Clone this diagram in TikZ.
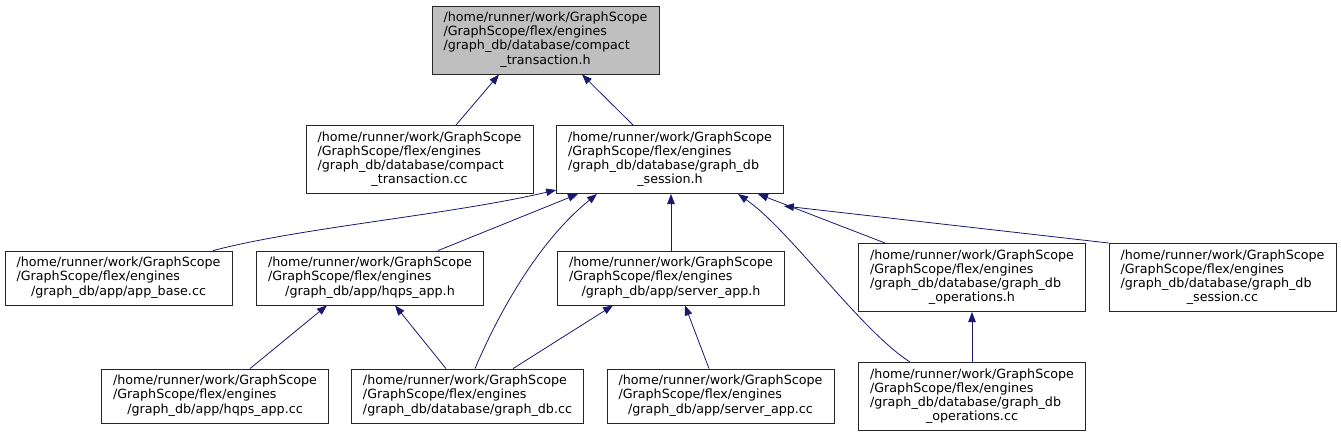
\documentclass[tikz,border=0pt]{standalone}
\usepackage{fontspec}
\setmainfont{DejaVu Sans}
\usepackage{xcolor}
\usepackage{tikz}
\usetikzlibrary{arrows.meta,positioning}
\definecolor{edgeblue}{HTML}{191970}
\definecolor{rootgray}{HTML}{BFBFBF}
\newcommand{\fpath}[2]{\begin{tabular}{@{}l@{}}#1\\\multicolumn{1}{@{}c@{}}{#2}\end{tabular}}

\begin{document}
\begin{tikzpicture}[
      x=1pt, y=-1pt,
      box/.style={draw=black!85, line width=0.8pt, inner xsep=11.5pt, inner ysep=5.7pt, font=\fontsize{12.7}{14.2}\selectfont},
      root/.style={box, fill=rootgray},
      arr/.style={-{Triangle[length=10pt,width=7.5pt]}, draw=edgeblue, line width=0.8pt}
    ]
      \useasboundingbox (0,0) rectangle (1341,437);

      \node[root] (ctxh) at (545.5,40) {\fpath{/home/runner/work/GraphScope\\/GraphScope/flex/engines\\/graph\_db/database/compact}{\_transaction.h}};
      \node[box] (ctxcc) at (419.5,159.5) {\fpath{/home/runner/work/GraphScope\\/GraphScope/flex/engines\\/graph\_db/database/compact}{\_transaction.cc}};
      \node[box] (sessh) at (670,159.5) {\fpath{/home/runner/work/GraphScope\\/GraphScope/flex/engines\\/graph\_db/database/graph\_db}{\_session.h}};
      \node[box] (appbase) at (118.5,278) {\fpath{/home/runner/work/GraphScope\\/GraphScope/flex/engines}{/graph\_db/app/app\_base.cc}};
      \node[box] (hqpsh) at (370,278) {\fpath{/home/runner/work/GraphScope\\/GraphScope/flex/engines}{/graph\_db/app/hqps\_app.h}};
      \node[box] (serverh) at (671,278) {\fpath{/home/runner/work/GraphScope\\/GraphScope/flex/engines}{/graph\_db/app/server\_app.h}};
      \node[box] (opsh) at (972,277.5) {\fpath{/home/runner/work/GraphScope\\/GraphScope/flex/engines\\/graph\_db/database/graph\_db}{\_operations.h}};
      \node[box] (sesscc) at (1222.5,277.5) {\fpath{/home/runner/work/GraphScope\\/GraphScope/flex/engines\\/graph\_db/database/graph\_db}{\_session.cc}};
      \node[box] (hqpscc) at (215,396) {\fpath{/home/runner/work/GraphScope\\/GraphScope/flex/engines}{/graph\_db/app/hqps\_app.cc}};
      \node[box] (dbcc) at (467.5,396) {\fpath{/home/runner/work/GraphScope\\/GraphScope/flex/engines}{/graph\_db/database/graph\_db.cc}};
      \node[box] (servercc) at (720.5,396) {\fpath{/home/runner/work/GraphScope\\/GraphScope/flex/engines}{/graph\_db/app/server\_app.cc}};
      \node[box] (opscc) at (972,396.5) {\fpath{/home/runner/work/GraphScope\\/GraphScope/flex/engines\\/graph\_db/database/graph\_db}{\_operations.cc}};

      \draw[arr] ([xshift=36.5]ctxcc.north) -- ([xshift=-46.5]ctxh.south);
      \draw[arr] ([xshift=-37]sessh.north) -- ([xshift=36.5]ctxh.south);
      \draw[arr] ([xshift=94.5]appbase.north) .. controls +(87,-23) and +(-107,25) .. ([yshift=4]sessh.south west);
      \draw[arr] ([xshift=68]hqpsh.north) -- ([xshift=-92]sessh.south);
      \draw[arr] ([xshift=7.5]dbcc.north) .. controls +(25,-59) and +(-57,46) .. ([xshift=-73]sessh.south);
      \draw[arr] (serverh.north) -- (serverh.north |- sessh.south);
      \draw[arr] ([xshift=-62]opscc.north) .. controls +(-50,-32) and +(52,36) .. ([xshift=68]sessh.south);
      \draw[arr] ([xshift=-87]opsh.north) -- ([xshift=88]sessh.south);
      \draw[arr] (sesscc.north west) -- ([yshift=-12]sessh.south east);
      \draw[arr] ([xshift=35]hqpscc.north) -- ([xshift=-43]hqpsh.south);
      \draw[arr] ([xshift=-21.5]dbcc.north) -- ([xshift=25]hqpsh.south);
      \draw[arr] ([xshift=45.5]dbcc.north) -- ([xshift=-58]serverh.south);
      \draw[arr] ([xshift=-11.5]servercc.north) -- ([xshift=14]serverh.south);
      \draw[arr] (opscc.north) -- (opsh.south);
    \end{tikzpicture}
\end{document}
